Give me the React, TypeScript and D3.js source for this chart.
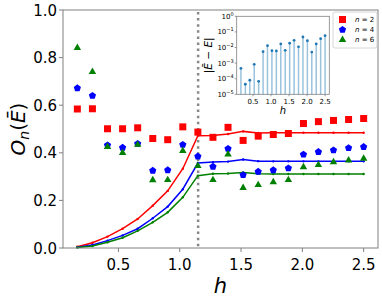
import React, { useEffect, useRef } from 'react';
import * as d3 from 'd3';

// transverse field values
const hValues = [0.165, 0.288, 0.411, 0.534, 0.657, 0.78, 0.902, 1.025, 1.148, 1.271,
  1.394, 1.517, 1.64, 1.763, 1.886, 2.009, 2.131, 2.254, 2.377, 2.5];

// scattered markers (one per n)
const n2Points = [0.584, 0.585, 0.501, 0.501, 0.505, 0.46, 0.455, 0.509, 0.487, 0.465,
  0.507, 0.452, 0.47, 0.477, 0.481, 0.523, 0.531, 0.536, 0.54, 0.544];
const n4Points = [0.672, 0.64, 0.432, 0.422, 0.438, 0.325, 0.327, 0.434, 0.385, 0.342,
  0.417, 0.307, 0.321, 0.327, 0.335, 0.393, 0.404, 0.411, 0.42, 0.425];
const n6Points = [0.841, 0.74, 0.425, 0.4, 0.434, 0.285, 0.286, 0.408, 0.345, 0.286,
  0.394, 0.253, 0.265, 0.277, 0.286, 0.34, 0.349, 0.361, 0.368, 0.376];

// solid curves
const n2Line = [0.005, 0.022, 0.048, 0.081, 0.122, 0.178, 0.24, 0.333, 0.472, 0.473,
  0.479, 0.49, 0.483, 0.484, 0.484, 0.484, 0.484, 0.484, 0.484, 0.484];
const n4Line = [0.003, 0.013, 0.031, 0.053, 0.081, 0.125, 0.174, 0.247, 0.357, 0.361,
  0.363, 0.372, 0.365, 0.364, 0.364, 0.364, 0.364, 0.364, 0.364, 0.364];
const n6Line = [0.002, 0.008, 0.024, 0.043, 0.072, 0.108, 0.15, 0.213, 0.304, 0.312,
  0.313, 0.317, 0.312, 0.311, 0.311, 0.311, 0.311, 0.311, 0.311, 0.311];

// inset: |Ebar - E|
const gapValues = [4.6e-4, 4.4e-5, 8e-5, 8.3e-4, 6.8e-5, 5.4e-3, 1.3e-2, 6.3e-3, 6e-3, 1.7e-2,
  6.6e-3, 1.9e-2, 2.9e-2, 1.1e-2, 4.7e-2, 2.7e-2, 5.1e-3, 1.7e-2, 3.7e-2, 5.7e-2];

const hCritical = 1.15;
const xTicks = [0.5, 1.0, 1.5, 2.0, 2.5];
const yTicks = [0, 0.2, 0.4, 0.6, 0.8, 1.0];
const insetYTicks = [-5, -4, -3, -2, -1, 0];
const legendLabels = ['2', '4', '6'];

const FONT = 'DejaVu Sans, sans-serif';
const SPINE = '#808080';

const pentagon = (r: number) => {
  const pts = d3.range(5).map(i => {
    const a = -Math.PI / 2 + (i * 2 * Math.PI) / 5;
    return [r * Math.cos(a), r * Math.sin(a)];
  });
  return 'M' + pts.map(p => p.join(',')).join('L') + 'Z';
};

const App = () => {
  const svgRef = useRef<SVGSVGElement>(null);

  useEffect(() => {
    const svg = d3.select(svgRef.current);
    svg.selectAll('*').remove();

    const width = 382;
    const height = 300;
    const m = { left: 63, right: 378, top: 10, bottom: 248 };

    const x = d3.scaleLinear().domain([0.048, 2.617]).range([m.left, m.right]);
    const y = d3.scaleLinear().domain([0, 1]).range([m.bottom, m.top]);

    svg.append('rect').attr('width', width).attr('height', height).attr('fill', '#fff');

    // critical field marker
    svg.append('line')
      .attr('x1', x(hCritical)).attr('x2', x(hCritical))
      .attr('y1', m.top + 2).attr('y2', m.bottom)
      .attr('stroke', '#888').attr('stroke-width', 2.5)
      .attr('stroke-dasharray', '2.5,3.6');

    const series = [
      { pts: n2Points, line: n2Line, color: '#ff0000', shape: 'square' },
      { pts: n4Points, line: n4Line, color: '#0000ff', shape: 'pentagon' },
      { pts: n6Points, line: n6Line, color: '#008000', shape: 'triangle' },
    ];

    const symbolPath = (shape: string) => {
      if (shape === 'square') return d3.symbol().type(d3.symbolSquare).size(49)()!;
      if (shape === 'triangle') return d3.symbol().type(d3.symbolTriangle).size(24)()!;
      return pentagon(3.8);
    };

    const lineGen = d3.line<number>().x((d, i) => x(hValues[i])).y(d => y(d));

    series.forEach(s => {
      svg.append('path')
        .attr('d', lineGen(s.line))
        .attr('fill', 'none')
        .attr('stroke', s.color)
        .attr('stroke-width', 1.5);
      svg.append('g').selectAll('circle')
        .data(s.line)
        .enter()
        .append('circle')
        .attr('cx', (d, i) => x(hValues[i]))
        .attr('cy', d => y(d))
        .attr('r', 1.2)
        .attr('fill', s.color);
    });

    series.forEach(s => {
      svg.append('g').selectAll('path')
        .data(s.pts)
        .enter()
        .append('path')
        .attr('d', symbolPath(s.shape))
        .attr('transform', (d, i) => `translate(${x(hValues[i])},${y(d)})`)
        .attr('fill', s.color);
    });

    // axes frame
    svg.append('rect')
      .attr('x', m.left).attr('y', m.top)
      .attr('width', m.right - m.left).attr('height', m.bottom - m.top)
      .attr('fill', 'none').attr('stroke', SPINE).attr('stroke-width', 1);

    const xAxis = svg.append('g').attr('transform', `translate(0,${m.bottom})`);
    xTicks.forEach(t => {
      xAxis.append('line').attr('x1', x(t)).attr('x2', x(t)).attr('y1', 0).attr('y2', 4)
        .attr('stroke', SPINE);
      xAxis.append('text').attr('x', x(t)).attr('y', 22)
        .attr('text-anchor', 'middle').attr('font-family', FONT).attr('font-size', 15)
        .text(d3.format('.1f')(t));
    });

    const yAxis = svg.append('g');
    yTicks.forEach(t => {
      yAxis.append('line').attr('x1', m.left - 4).attr('x2', m.left).attr('y1', y(t)).attr('y2', y(t))
        .attr('stroke', SPINE);
      yAxis.append('text').attr('x', m.left - 6).attr('y', y(t) + 5.5)
        .attr('text-anchor', 'end').attr('font-family', FONT).attr('font-size', 15)
        .text(d3.format('.1f')(t));
    });

    svg.append('text')
      .attr('x', (m.left + m.right) / 2).attr('y', 293)
      .attr('text-anchor', 'middle').attr('font-family', FONT)
      .attr('font-style', 'italic').attr('font-size', 21)
      .text('h');

    const yl = svg.append('text')
      .attr('transform', `translate(25,${(m.top + m.bottom) / 2}) rotate(-90)`)
      .attr('text-anchor', 'middle').attr('font-family', FONT).attr('font-size', 20);
    yl.append('tspan').attr('font-style', 'italic').text('O');
    yl.append('tspan').attr('font-style', 'italic').attr('font-size', 14).attr('dy', 4).text('n');
    yl.append('tspan').attr('dy', -4).text('(');
    yl.append('tspan').attr('font-style', 'italic').text('E\u0304');
    yl.append('tspan').text(')');

    // legend
    const lg = svg.append('g');
    lg.append('rect').attr('x', 333).attr('y', 12).attr('width', 44).attr('height', 36)
      .attr('rx', 2).attr('fill', '#fff').attr('stroke', '#ccc').attr('stroke-width', 0.8);
    series.forEach((s, i) => {
      const ly = 19.5 + i * 10.2;
      lg.append('path').attr('d', symbolPath(s.shape))
        .attr('transform', `translate(342.5,${ly})`).attr('fill', s.color);
      const t = lg.append('text').attr('x', 355).attr('y', ly + 2.5)
        .attr('font-family', FONT).attr('font-size', 7);
      t.append('tspan').attr('font-style', 'italic').text('n');
      t.append('tspan').text(' = ' + legendLabels[i]);
    });

    // inset
    const ins = { left: 236.7, right: 329.3, top: 16.3, bottom: 94.3 };
    const ix = d3.scaleLinear().domain([0.048, 2.617]).range([ins.left, ins.right]);
    const iy = d3.scaleLog().domain([1e-5, 1]).range([ins.bottom, ins.top]);
    const inset = svg.append('g');
    inset.append('rect')
      .attr('x', ins.left).attr('y', ins.top)
      .attr('width', ins.right - ins.left).attr('height', ins.bottom - ins.top)
      .attr('fill', '#fff').attr('stroke', SPINE).attr('stroke-width', 0.8);

    inset.append('g').selectAll('line')
      .data(gapValues)
      .enter()
      .append('line')
      .attr('x1', (d, i) => ix(hValues[i])).attr('x2', (d, i) => ix(hValues[i]))
      .attr('y1', ins.bottom).attr('y2', d => iy(d))
      .attr('stroke', '#1f77b4').attr('stroke-opacity', 0.45).attr('stroke-width', 1.5);
    inset.append('g').selectAll('circle')
      .data(gapValues)
      .enter()
      .append('circle')
      .attr('cx', (d, i) => ix(hValues[i])).attr('cy', d => iy(d))
      .attr('r', 1.4).attr('fill', '#1f77b4');

    xTicks.forEach(t => {
      inset.append('line').attr('x1', ix(t)).attr('x2', ix(t))
        .attr('y1', ins.bottom).attr('y2', ins.bottom + 2).attr('stroke', SPINE).attr('stroke-width', 0.8);
      inset.append('text').attr('x', ix(t)).attr('y', 103.5)
        .attr('text-anchor', 'middle').attr('font-family', FONT).attr('font-size', 7)
        .text(d3.format('.1f')(t));
    });
    insetYTicks.forEach(p => {
      const ty = iy(Math.pow(10, p));
      inset.append('line').attr('x1', ins.left - 2).attr('x2', ins.left)
        .attr('y1', ty).attr('y2', ty).attr('stroke', SPINE).attr('stroke-width', 0.8);
      const t = inset.append('text').attr('x', ins.left - 3).attr('y', ty + 2.5)
        .attr('text-anchor', 'end').attr('font-family', FONT).attr('font-size', 7);
      t.append('tspan').text('10');
      t.append('tspan').attr('dy', -3).attr('font-size', 5).text(p === 0 ? '0' : '\u2212' + Math.abs(p));
    });
    inset.append('text')
      .attr('x', (ins.left + ins.right) / 2).attr('y', 114)
      .attr('text-anchor', 'middle').attr('font-family', FONT)
      .attr('font-style', 'italic').attr('font-size', 10)
      .text('h');
    const il = inset.append('text')
      .attr('transform', `translate(211.5,${(ins.top + ins.bottom) / 2}) rotate(-90)`)
      .attr('text-anchor', 'middle').attr('font-family', FONT).attr('font-size', 10.5);
    il.append('tspan').text('|');
    il.append('tspan').attr('font-style', 'italic').text('E\u0304');
    il.append('tspan').text(' \u2212 ');
    il.append('tspan').attr('font-style', 'italic').text('E');
    il.append('tspan').text('|');
  }, []);

  return (
    <svg ref={svgRef} width={382} height={300}
      style={{ position: 'absolute', left: 0, top: 0 }}></svg>
  );
};

export default App;
